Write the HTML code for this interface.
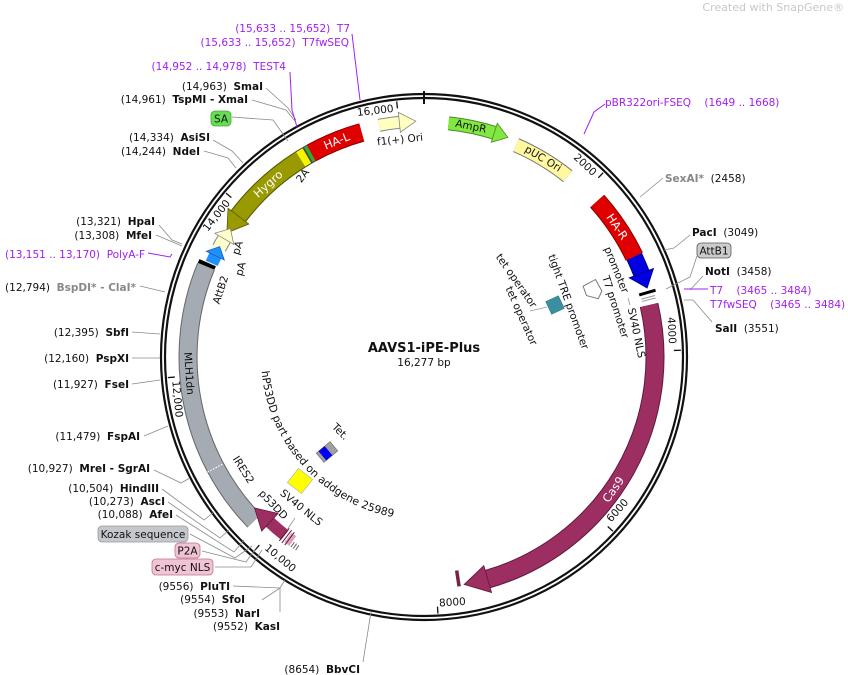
<!DOCTYPE html>
<html><head><meta charset="utf-8"><style>
html,body{margin:0;padding:0;background:#fff;}
svg{display:block;font-family:"DejaVu Sans","Liberation Sans",sans-serif;font-size:10px;}
text{white-space:pre}
.b{font-weight:bold}
.p{fill:#a020f0}
.g{fill:#888}
</style></head><body>
<svg width="848" height="675" viewBox="0 0 848 675" xmlns="http://www.w3.org/2000/svg">
<text x="844" y="11" text-anchor="end" fill="#c8c8c8" font-size="11">Created with SnapGene®</text>

<!-- backbone -->
<circle cx="424" cy="357" r="263" fill="none" stroke="#111" stroke-width="2.2"/>
<circle cx="424" cy="357" r="259" fill="none" stroke="#111" stroke-width="2.2"/>
<line x1="424" y1="91" x2="424" y2="104" stroke="#111" stroke-width="2"/>

<!-- ticks -->
<g stroke="#111" stroke-width="1.3">
<line x1="424" y1="100" x2="424" y2="107" transform="rotate(353.9 424 357)"/>
<line x1="424" y1="100" x2="424" y2="107" transform="rotate(44.2 424 357)"/>
<line x1="424" y1="100" x2="424" y2="107" transform="rotate(88.5 424 357)"/>
<line x1="424" y1="100" x2="424" y2="107" transform="rotate(132.7 424 357)"/>
<line x1="424" y1="100" x2="424" y2="107" transform="rotate(176.9 424 357)"/>
<line x1="424" y1="100" x2="424" y2="107" transform="rotate(221.2 424 357)"/>
<line x1="424" y1="100" x2="424" y2="107" transform="rotate(265.4 424 357)"/>
<line x1="424" y1="100" x2="424" y2="107" transform="rotate(309.6 424 357)"/>
</g>
<g fill="#111" font-size="10.5">
<text x="393.9" y="111.9" text-anchor="end" transform="rotate(-6.5 393.9 111.9)">16,000</text>
<text x="592.5" y="176.4" text-anchor="end" transform="rotate(43 592.5 176.4)">2000</text>
<text x="669" y="344" text-anchor="end" transform="rotate(87 669 344)">4000</text>
<text x="611.2" y="522.6" transform="rotate(-48.5 611.2 522.6)">6000</text>
<text x="439.3" y="606.5" transform="rotate(-3.5 439.3 606.5)">8000</text>
<text x="264" y="549" transform="rotate(39.8 264 549)">10,000</text>
<text x="172.2" y="381.2" transform="rotate(84.5 172.2 381.2)">12,000</text>
<text x="230.7" y="203.2" text-anchor="end" transform="rotate(-51.5 230.7 203.2)">14,000</text>
</g>

<!-- features: outlines then fills -->
<g fill="none">
<circle cx="424" cy="357" r="233" stroke="#800" stroke-width="19" stroke-dasharray="54.9 3000" transform="rotate(241 424 357)"/>
<circle cx="424" cy="357" r="233" stroke="#e00000" stroke-width="17" stroke-dasharray="54.9 3000" transform="rotate(241 424 357)"/>
<circle cx="424" cy="357" r="233" stroke="#444" stroke-width="19" stroke-dasharray="12.2 3000" transform="rotate(238 424 357)"/>
<circle cx="424" cy="357" r="233" stroke="#f5f500" stroke-width="17" stroke-dasharray="7.5 3000" transform="rotate(238 424 357)"/>
<circle cx="424" cy="357" r="233" stroke="#33aa33" stroke-width="17" stroke-dasharray="3.5 3000" transform="rotate(240.2 424 357)"/>
<circle cx="424" cy="357" r="233" stroke="#555500" stroke-width="19" stroke-dasharray="85.4 3000" transform="rotate(217 424 357)"/>
<circle cx="424" cy="357" r="233" stroke="#999900" stroke-width="17" stroke-dasharray="85.4 3000" transform="rotate(217 424 357)"/>
<circle cx="424" cy="357" r="236" stroke="#888" stroke-width="13" stroke-dasharray="20.6 3000" transform="rotate(259 424 357)"/>
<circle cx="424" cy="357" r="236" stroke="#ffffc0" stroke-width="11" stroke-dasharray="20.6 3000" transform="rotate(259 424 357)"/>
<circle cx="424" cy="357" r="235" stroke="#4a8a20" stroke-width="14" stroke-dasharray="47.2 3000" transform="rotate(-84 424 357)"/>
<circle cx="424" cy="357" r="235" stroke="#80e840" stroke-width="12" stroke-dasharray="47.2 3000" transform="rotate(-84 424 357)"/>
<circle cx="424" cy="357" r="231" stroke="#777" stroke-width="15" stroke-dasharray="60.5 3000" transform="rotate(-66.5 424 357)"/>
<circle cx="424" cy="357" r="231" stroke="#fff8a0" stroke-width="13" stroke-dasharray="60.5 3000" transform="rotate(-66.5 424 357)"/>
<circle cx="424" cy="357" r="233" stroke="#800" stroke-width="19" stroke-dasharray="67.1 3000" transform="rotate(-42 424 357)"/>
<circle cx="424" cy="357" r="233" stroke="#e00000" stroke-width="17" stroke-dasharray="67.1 3000" transform="rotate(-42 424 357)"/>
<circle cx="424" cy="357" r="233" stroke="#000080" stroke-width="17" stroke-dasharray="18.3 3000" transform="rotate(-25.5 424 357)"/>
<circle cx="424" cy="357" r="233" stroke="#0000e0" stroke-width="15" stroke-dasharray="18.3 3000" transform="rotate(-25.5 424 357)"/>
<circle cx="424" cy="357" r="231" stroke="#5e1a3b" stroke-width="19" stroke-dasharray="350.8 3000" transform="rotate(-13 424 357)"/>
<circle cx="424" cy="357" r="231" stroke="#9c2e62" stroke-width="17" stroke-dasharray="350.8 3000" transform="rotate(-13 424 357)"/>
<circle cx="424" cy="357" r="236" stroke="#666" stroke-width="19" stroke-dasharray="274 3000" transform="rotate(136 424 357)"/>
<circle cx="424" cy="357" r="236" stroke="#a4abb3" stroke-width="17" stroke-dasharray="274 3000" transform="rotate(136 424 357)"/>
<circle cx="424" cy="357" r="236" stroke="#000" stroke-width="18" stroke-dasharray="4 3000" transform="rotate(202.6 424 357)"/>
<circle cx="424" cy="357" r="232" stroke="#888" stroke-width="15" stroke-dasharray="10.5 3000" transform="rotate(208 424 357)"/>
<circle cx="424" cy="357" r="232" stroke="#ffffcc" stroke-width="13" stroke-dasharray="10.5 3000" transform="rotate(208 424 357)"/>
<circle cx="424" cy="357" r="232" stroke="#1e90ff" stroke-width="13" stroke-dasharray="8.5 3000" transform="rotate(203.8 424 357)"/>
<circle cx="424" cy="357" r="226" stroke="#9c2e62" stroke-width="12" stroke-dasharray="19.7 3000" transform="rotate(128 424 357)"/>
<circle cx="424" cy="357" r="226" stroke="#e0a0c0" stroke-width="12" stroke-dasharray="6 3000" transform="rotate(125.5 424 357)"/>
</g>
<line x1="424" y1="112" x2="424" y2="130" stroke="#fff" stroke-width="1.2" stroke-dasharray="1.5 1.5" transform="rotate(242 424 357)"/>
<g stroke="#5e1a3b" stroke-width="1">
<line x1="424" y1="123" x2="424" y2="139" transform="rotate(216.5 424 357)"/>
<line x1="424" y1="123" x2="424" y2="139" transform="rotate(217.4 424 357)"/>
<line x1="424" y1="123" x2="424" y2="139" transform="rotate(218.2 424 357)"/>
</g>

<!-- arrowheads -->
<polygon points="424,111 424,137 403.7,124.9" fill="#999900" stroke="#555500" stroke-width="0.8" transform="rotate(307.2 424 357)"/>
<polygon points="424,111 424,131 440.5,121.6" fill="#ffffc0" stroke="#888" stroke-width="0.8" transform="rotate(354 424 357)"/>
<polygon points="424,112 424,132 438.4,122.4" fill="#80e840" stroke="#4a8a20" stroke-width="0.8" transform="rotate(17.4 424 357)"/>
<polygon points="424,111 424,137 440,124" fill="#0000e0" stroke="#000080" stroke-width="0.8" transform="rotate(68.9 424 357)"/>
<polygon points="424,112 424,140 448.1,127.3" fill="#9c2e62" stroke="#5e1a3b" stroke-width="0.8" transform="rotate(164 424 357)"/>
<polygon points="424,114 424,136 436,125" fill="#ffffcc" stroke="#888" stroke-width="0.8" transform="rotate(300.6 424 357)"/>
<polygon points="424,115 424,135 434,125" fill="#1e90ff" stroke="#1060b0" stroke-width="0.8" transform="rotate(295.9 424 357)"/>
<polygon points="424,119 424,143 445,131" fill="#9c2e62" stroke="#5e1a3b" stroke-width="0.8" transform="rotate(223 424 357)"/>

<line x1="424" y1="116" x2="424" y2="133" stroke="#000" stroke-width="3" transform="rotate(73.9 424 357)"/>
<line x1="424" y1="118" x2="424" y2="132" stroke="#999" stroke-width="1" transform="rotate(75.1 424 357)"/>
<line x1="424" y1="118" x2="424" y2="132" stroke="#999" stroke-width="1" transform="rotate(75.7 424 357)"/>
<line x1="424" y1="125" x2="424" y2="141" stroke="#7a1f4a" stroke-width="3.5" transform="rotate(171.3 424 357)"/>
<g stroke="#666" stroke-width="1">
<line x1="424" y1="125" x2="424" y2="131" transform="rotate(213.6 424 357)"/>
<line x1="424" y1="125" x2="424" y2="131" transform="rotate(214.3 424 357)"/>
<line x1="424" y1="125" x2="424" y2="131" transform="rotate(215 424 357)"/>
</g>

<!-- feature labels -->
<g font-size="11.5" text-anchor="middle" dominant-baseline="central">
<text x="424" y="124" fill="#fff" transform="rotate(338 424 357)">HA-L</text>
<text x="424" y="124" fill="#fff" transform="rotate(318 424 357)">Hygro</text>
<text x="424" y="122" fill="#111" font-size="10.5" transform="rotate(11.5 424 357)">AmpR</text>
<text x="424" y="126" fill="#111" font-size="10.5" transform="rotate(31 424 357)">pUC Ori</text>
<text x="424" y="124" fill="#fff" transform="rotate(56 424 357)">HA-R</text>
<text x="424" y="126" fill="#fff" transform="rotate(125 424 357) rotate(180 424 126)">Cas9</text>
<text x="424" y="121" fill="#111" font-size="10.5" transform="rotate(266 424 357) rotate(180 424 121)">MLH1dn</text>
</g>
<g font-size="10.5" fill="#111" text-anchor="middle" dominant-baseline="central">
<text x="400" y="140" transform="rotate(-6 400 140)">f1(+) Ori</text>
<text x="303" y="176" transform="rotate(-52 303 176)">2A</text>
<text x="238" y="248" transform="rotate(-72 238 248)">pA</text>
<text x="241" y="269" transform="rotate(-75 241 269)">pA</text>
<text x="221" y="290" transform="rotate(-72 221 290)">AttB2</text>
<text x="243" y="470" transform="rotate(58 243 470)">IRES2</text>
<text x="273" y="505" transform="rotate(46 273 505)">p53DD</text>
<text x="301" y="508" transform="rotate(39 301 508)">SV40 NLS</text>
<text x="340" y="432" transform="rotate(45 340 432)">Tet.</text>
<text x="616" y="270" transform="rotate(68 616 270)">promoter</text>
<text x="615" y="307" transform="rotate(72 615 307)">T7 promoter</text>
<text x="636" y="333" transform="rotate(78 636 333)">SV40 NLS</text>
<text x="568" y="302" transform="rotate(70 568 302)">tight TRE promoter</text>
<text x="516" y="281" transform="rotate(55 516 281)">tet operator</text>
<text x="521" y="316" transform="rotate(66 521 316)">tet operator</text>
</g>
<path id="arcp" d="M 261.6 371.2 A 163 163 0 0 0 409.8 519.4" fill="none"/>
<text font-size="10.8" fill="#111"><textPath href="#arcp">hP53DD part based on addgene 25989</textPath></text>

<rect x="-7" y="-7" width="14" height="14" fill="#3a8fa0" stroke="#2a6f80" stroke-width="0.5" transform="translate(555,305) rotate(-25)"/>
<line x1="530" y1="311" x2="547" y2="307" stroke="#999" stroke-width="0.8"/>
<polygon points="-8,-7 6,-9 8,4 2,10 -8,3" fill="#fff" stroke="#777" stroke-width="1" transform="translate(593,290) rotate(-20)"/>
<line x1="628" y1="298" x2="630" y2="305" stroke="#999" stroke-width="0.8"/>
<g transform="translate(327,452) rotate(-40)">
<rect x="-9" y="-6" width="18" height="12" fill="#a0a0a0" stroke="#666" stroke-width="0.6"/>
<rect x="-6" y="-6" width="8" height="12" fill="#0000ee"/>
</g>
<rect x="-9" y="-9" width="18" height="18" fill="#ffff00" stroke="#aaa" stroke-width="0.6" transform="translate(300,481) rotate(38)"/>
<line x1="287" y1="530" x2="295" y2="518" stroke="#999" stroke-width="0.8"/>

<text x="424" y="352" text-anchor="middle" font-weight="bold" font-size="13" fill="#111">AAVS1-iPE-Plus</text>
<text x="424" y="366" text-anchor="middle" font-size="10.5" fill="#111">16,277 bp</text>

<!-- leader lines -->
<g fill="none" stroke="#8a8a8a" stroke-width="0.8">
<polyline points="266,88 288,108 296,120"/>
<polyline points="252,100 286,110 295,121"/>
<polyline points="232,117 273,120 288,141"/>
<polyline points="213,140 232,151 243,163"/>
<polyline points="204,151 228,158 236,168"/>
<polyline points="159,225 172,240 182,244"/>
<polyline points="156,235 182,246"/>
<polyline points="140,286 165,292"/>
<polyline points="132,332 160,334"/>
<polyline points="132,358 160,358"/>
<polyline points="132,384 160,380"/>
<polyline points="144,436 168,426"/>
<polyline points="154,470 181,483 190,478"/>
<polyline points="162,489 204,520 214,512"/>
<polyline points="168,502 220,538 229,530"/>
<polyline points="176,515 234,552 244,540"/>
<polyline points="190,534 235,558 252,546"/>
<polyline points="202,551 246,562 256,548"/>
<polyline points="215,567 251,567 262,550"/>
<polyline points="233,586 280,588 285,580"/>
<polyline points="262,600 280,588"/>
<polyline points="280,588 280,612"/>
<polyline points="363,662 371,612"/>
<polyline points="663,178 640,197"/>
<polyline points="690,235 674,248 664,250"/>
<polyline points="697,256 690,277 666,289"/>
<polyline points="703,276 690,290"/>
<polyline points="712,322 693,300 684,300"/>
</g>
<g fill="none" stroke="#a020f0" stroke-width="1">
<polyline points="352,34 360,100"/>
<polyline points="290,72 292,110 297,127"/>
<polyline points="148,253 170,257 172,254"/>
<polyline points="605,104 594,112 584,134"/>
<polyline points="708,289 684,289"/>
</g>

<g class="p" font-size="10.5">
<text x="350" y="32" text-anchor="end">(15,633 .. 15,652)  T7</text>
<text x="349" y="46" text-anchor="end">(15,633 .. 15,652)  T7fwSEQ</text>
<text x="286" y="70" text-anchor="end">(14,952 .. 14,978)  TEST4</text>
<text x="145" y="258" text-anchor="end">(13,151 .. 13,170)  PolyA-F</text>
<text x="605" y="106">pBR322ori-FSEQ    (1649 .. 1668)</text>
<text x="710" y="294">T7    (3465 .. 3484)</text>
<text x="710" y="308">T7fwSEQ    (3465 .. 3484)</text>
</g>

<g fill="#111" font-size="10.5" text-anchor="end">
<text x="263" y="90">(14,963)  <tspan class="b">SmaI</tspan></text>
<text x="248" y="103">(14,961)  <tspan class="b">TspMI - XmaI</tspan></text>
<text x="210" y="141">(14,334)  <tspan class="b">AsiSI</tspan></text>
<text x="200" y="155">(14,244)  <tspan class="b">NdeI</tspan></text>
<text x="155" y="225">(13,321)  <tspan class="b">HpaI</tspan></text>
<text x="152" y="239">(13,308)  <tspan class="b">MfeI</tspan></text>
<text x="136" y="291">(12,794)  <tspan class="b" fill="#888">BspDI* - ClaI*</tspan></text>
<text x="129" y="336">(12,395)  <tspan class="b">SbfI</tspan></text>
<text x="129" y="362">(12,160)  <tspan class="b">PspXI</tspan></text>
<text x="129" y="388">(11,927)  <tspan class="b">FseI</tspan></text>
<text x="140" y="440">(11,479)  <tspan class="b">FspAI</tspan></text>
<text x="150" y="472">(10,927)  <tspan class="b">MreI - SgrAI</tspan></text>
<text x="159" y="492">(10,504)  <tspan class="b">HindIII</tspan></text>
<text x="165" y="505">(10,273)  <tspan class="b">AscI</tspan></text>
<text x="173" y="518">(10,088)  <tspan class="b">AfeI</tspan></text>
<text x="230" y="590">(9556)  <tspan class="b">PluTI</tspan></text>
<text x="245" y="603">(9554)  <tspan class="b">SfoI</tspan></text>
<text x="260" y="617">(9553)  <tspan class="b">NarI</tspan></text>
<text x="280" y="630">(9552)  <tspan class="b">KasI</tspan></text>
<text x="360" y="673">(8654)  <tspan class="b">BbvCI</tspan></text>
</g>
<g fill="#111" font-size="10.5">
<text x="665" y="182"><tspan class="b" fill="#888">SexAI*</tspan>  (2458)</text>
<text x="692" y="236"><tspan class="b">PacI</tspan>  (3049)</text>
<text x="705" y="275"><tspan class="b">NotI</tspan>  (3458)</text>
<text x="715" y="332"><tspan class="b">SalI</tspan>  (3551)</text>
</g>

<rect x="211" y="111" width="20" height="15" rx="4" fill="#66dd55" stroke="#44aa33" stroke-width="0.8"/>
<text x="221" y="122.5" text-anchor="middle" font-size="10.5" fill="#111">SA</text>
<rect x="697" y="243" width="34" height="15" rx="4" fill="#cccccc" stroke="#555" stroke-width="0.8"/>
<text x="714" y="254.5" text-anchor="middle" font-size="10.5" fill="#111">AttB1</text>
<rect x="98" y="526" width="90" height="16" rx="4" fill="#c4c8cc" stroke="#999" stroke-width="0.8"/>
<text x="143" y="538" text-anchor="middle" font-size="10.5" fill="#111">Kozak sequence</text>
<rect x="175" y="543" width="25" height="15" rx="4" fill="#f0c4d4" stroke="#c07090" stroke-width="0.8"/>
<text x="187.5" y="554.5" text-anchor="middle" font-size="10.5" fill="#111">P2A</text>
<rect x="152" y="559" width="61" height="16" rx="4" fill="#f0c4d4" stroke="#c07090" stroke-width="0.8"/>
<text x="182.5" y="571" text-anchor="middle" font-size="10.5" fill="#111">c-myc NLS</text>
</svg>
</body></html>
